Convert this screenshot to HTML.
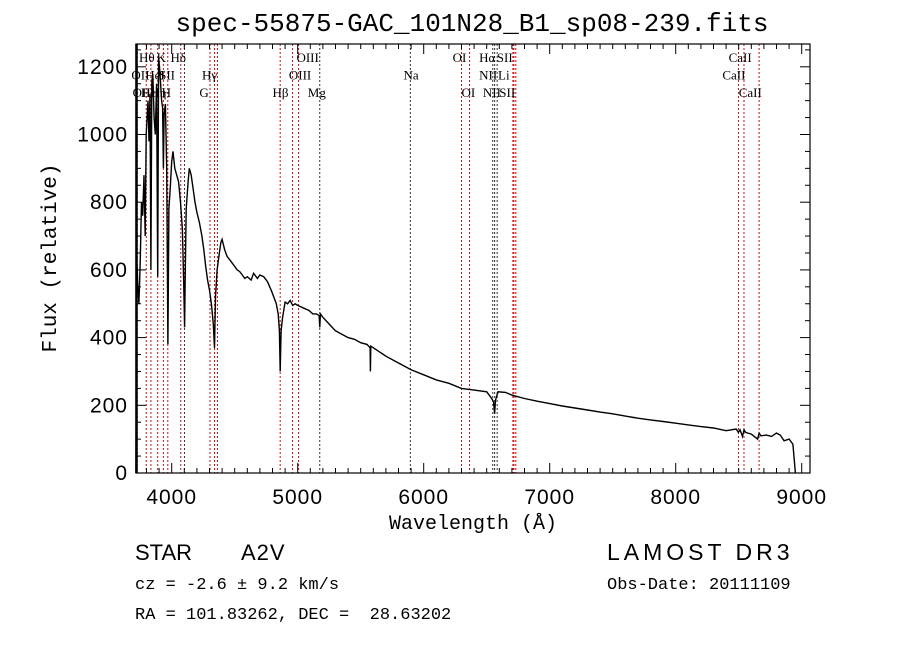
<!DOCTYPE html>
<html><head><meta charset="utf-8">
<style>
body{margin:0;background:#fff;}
svg{display:block;}
.t{font-family:"Liberation Sans",sans-serif;fill:#000;}
.s{font-family:"Liberation Serif",serif;fill:#000;font-size:13px;}
.m{font-family:"Liberation Mono",monospace;fill:#000;}
</style></head>
<body>
<svg id="chart" width="900" height="649" viewBox="0 0 900 649" xmlns="http://www.w3.org/2000/svg">
<rect width="900" height="649" fill="#fff"/>
<text class="m" x="472" y="31" font-size="26" text-anchor="middle">spec-55875-GAC_101N28_B1_sp08-239.fits</text>
<g id="lines"></g>
<g id="labels"></g>
<path id="spec" fill="none" stroke="#000" stroke-width="1.4"/>
<rect x="136" y="44" width="674" height="429" fill="none" stroke="#000" stroke-width="1.2"/>
<line x1="136.5" y1="44" x2="136.5" y2="473" stroke="#000" stroke-width="2.5"/>
<g id="ticks"></g>
<text class="m" x="473" y="529" font-size="20" text-anchor="middle">Wavelength (Å)</text>
<text class="m" x="56" y="258" font-size="21" text-anchor="middle" transform="rotate(-90 56 258)">Flux (relative)</text>
<text class="t" x="135" y="560" font-size="22">STAR</text>
<text class="t" x="241" y="560" font-size="22" letter-spacing="1">A2V</text>
<text class="t" x="607" y="560" font-size="23" letter-spacing="4">LAMOST DR3</text>
<text class="m" x="135" y="589" font-size="17">cz = -2.6 ± 9.2 km/s</text>
<text class="m" x="607" y="589" font-size="17">Obs-Date: 20111109</text>
<text class="m" x="135" y="619" font-size="17" xml:space="preserve">RA = 101.83262, DEC =  28.63202</text>
</svg>
<script>
const wave = [3717,3719,3722,3726,3730,3740,3750,3760,3770,3780,3790,3798,3805,3812,3820,3828,3835,3842,3850,3860,3870,3880,3889,3896,3903,3912,3920,3928,3934,3940,3950,3960,3970,3978,3990,4000,4010,4025,4040,4055,4070,4085,4095,4102,4108,4115,4130,4140,4155,4170,4185,4200,4220,4240,4255,4270,4285,4300,4315,4330,4340,4348,4360,4375,4390,4400,4420,4440,4460,4480,4500,4520,4540,4560,4580,4600,4630,4650,4680,4700,4730,4760,4790,4810,4830,4845,4855,4861,4868,4880,4900,4920,4940,4960,4980,5000,5030,5060,5090,5120,5150,5170,5175,5180,5200,5250,5300,5350,5400,5450,5500,5550,5575,5577,5580,5620,5700,5800,5900,6000,6100,6200,6300,6400,6500,6540,6555,6563,6570,6590,6650,6700,6800,6900,7000,7100,7200,7300,7400,7500,7600,7700,7800,7900,8000,8100,8200,8300,8400,8480,8498,8510,8530,8542,8555,8600,8650,8662,8675,8720,8760,8800,8830,8860,8900,8930,8950,8958,8962];
const flux = [0,280,520,610,560,500,620,800,760,880,700,1000,1050,1100,980,1120,600,1150,1180,1050,1000,1150,580,1230,1200,1150,1100,1080,900,1060,1090,900,380,780,850,920,950,900,880,860,800,720,560,430,600,780,860,900,880,840,800,770,740,700,660,610,570,540,500,440,370,520,600,640,680,690,660,640,630,620,610,600,595,585,575,580,570,590,575,585,580,565,540,520,500,470,420,300,420,460,505,500,510,495,500,495,490,485,480,470,470,465,430,470,460,440,420,410,400,395,385,380,370,300,375,365,345,325,305,290,275,265,250,245,240,220,210,175,215,240,238,230,220,212,205,198,192,186,180,175,168,162,157,152,147,142,137,133,125,130,120,128,108,128,120,115,100,118,110,112,108,118,112,95,100,85,0];
const lineWaves = [3727,3798,3835,3889,3934,3969,4072,4102,4304,4340,4363,4861,4959,5007,5175,5894,6300,6364,6548,6563,6583,6708,6716,6731,8498,8542,8662];
const lineBlack = [0,0,0,0,0,0,0,1,0,0,0,0,0,0,1,1,0,0,1,1,1,0,0,0,0,0,0];
const labelText = ["Hθ","K","Hδ","OIII","OI","Hα","SII","CaII","OII","HeI","SII","Hγ","OIII","Na","NII","Li","CaII","OII","Hε","Hη","H","G","Hβ","Mg","OI","NII","SII","CaII"];
const labelWave = [3740,3880,3990,4990,6230,6440,6580,8420,3680,3790,3900,4240,4930,5840,6440,6590,8370,3690,3755,3830,3920,4220,4800,5080,6300,6470,6600,8500];
const labelRow = [0,0,0,0,0,0,0,0,1,1,1,1,1,1,1,1,1,2,2,2,2,2,2,2,2,2,2,2];
const yTicks = [0,200,400,600,800,1000,1200];
const xTicks = [4000,5000,6000,7000,8000,9000];

const X = w => 171.7 + (w - 4000) * 0.126;
const Y = f => 473 - f * 0.3385;
const NS = "http://www.w3.org/2000/svg";

let d = "";
for (let i = 0; i < wave.length; i++) d += (i ? "L" : "M") + X(wave[i]).toFixed(1) + " " + Y(flux[i]).toFixed(1);
document.getElementById("spec").setAttribute("d", d);

const lg = document.getElementById("lines");
lineWaves.forEach((w, i) => {
  const l = document.createElementNS(NS, "line");
  l.setAttribute("x1", X(w)); l.setAttribute("x2", X(w));
  l.setAttribute("y1", 44); l.setAttribute("y2", 473);
  l.setAttribute("stroke", lineBlack[i] ? "#333" : "#c01010");
  l.setAttribute("stroke-width", "1");
  l.setAttribute("stroke-dasharray", "2,2");
  
  
  lg.appendChild(l);
});
const lb = document.getElementById("labels");
labelText.forEach((t, i) => {
  const e = document.createElementNS(NS, "text");
  e.setAttribute("class", "s");
  e.setAttribute("x", X(labelWave[i]));
  e.setAttribute("y", 62 + labelRow[i] * 17.5);
  e.textContent = t;
  
  
  lb.appendChild(e);
});

const tg = document.getElementById("ticks");
function ln(x1,y1,x2,y2,w){const l=document.createElementNS(NS,"line");l.setAttribute("x1",x1);l.setAttribute("y1",y1);l.setAttribute("x2",x2);l.setAttribute("y2",y2);l.setAttribute("stroke","#000");l.setAttribute("stroke-width",w||1);


tg.appendChild(l);}
function tx(s,x,y,a){const e=document.createElementNS(NS,"text");e.setAttribute("class","t");e.setAttribute("font-size","21");e.setAttribute("letter-spacing","1");e.setAttribute("x",x);e.setAttribute("y",y);e.setAttribute("text-anchor",a);e.textContent=s;


tg.appendChild(e);}
for (let v = 0; v <= 1250; v += 50) {
  const y = Y(v), L = v % 200 === 0 ? 10 : 5;
  ln(136, y, 136 + L, y); ln(810, y, 810 - L, y);
}
yTicks.forEach(v => tx(String(v), 128, Y(v) + 7, "end"));
for (let w = 3800; w <= 9000; w += 100) {
  const x = X(w), L = w % 1000 === 0 ? 10 : 5;
  ln(x, 473, x, 473 - L); ln(x, 44, x, 44 + L);
}
xTicks.forEach(w => tx(String(w), X(w), 504, "middle"));
</script>
</body></html>
